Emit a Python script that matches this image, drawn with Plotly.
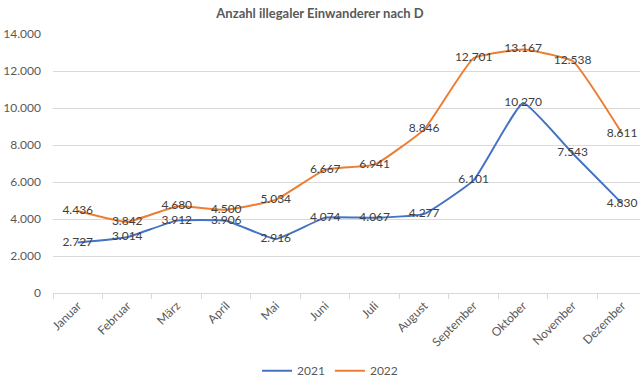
import plotly.graph_objects as go

months = ["Januar", "Februar", "März", "April", "Mai", "Juni", "Juli",
          "August", "September", "Oktober", "November", "Dezember"]
values_2021 = [2727, 3014, 3912, 3906, 2916, 4074, 4067, 4277, 6101, 10270, 7543, 4830]
values_2022 = [4436, 3842, 4680, 4500, 5034, 6667, 6941, 8846, 12701, 13167, 12538, 8611]
y_ticks = [0, 2000, 4000, 6000, 8000, 10000, 12000, 14000]

FONT = "Lato, 'Open Sans', sans-serif"
LABEL_COLOR = "#404040"

def fmt(v):
    return f"{v:,}".replace(",", ".")

fig = go.Figure()
for name, vals, color in [("2021", values_2021, "#4472C4"), ("2022", values_2022, "#ED7D31")]:
    fig.add_trace(go.Scatter(
        x=months, y=vals, name=name, mode="lines+text",
        line=dict(color=color, width=2, shape="spline", smoothing=0.35),
        text=[fmt(v) for v in vals], textposition="middle center",
        textfont=dict(family=FONT, size=12, color=LABEL_COLOR),
        cliponaxis=False,
    ))

fig.update_layout(
    width=640, height=387,
    margin=dict(l=53, r=0, t=34, b=94),
    paper_bgcolor="white", plot_bgcolor="white",
    separators=",.",
    title=dict(text="<b>Anzahl illegaler Einwanderer nach D</b>", x=0.5, xanchor="center",
               y=0.965, yanchor="middle",
               font=dict(family=FONT, size=13, color="#595959")),
    font=dict(family=FONT, color="#595959"),
    legend=dict(orientation="h", x=0.472, xanchor="center", y=-0.3, yanchor="middle",
                font=dict(family=FONT, size=12, color="#595959"),
                itemwidth=30, traceorder="normal"),
    showlegend=True,
)
fig.update_xaxes(
    range=[-0.5, 11.36], tickangle=-45, showgrid=False, automargin=False,
    ticks="outside", tickson="boundaries", ticklen=5, tickcolor="#D9D9D9",
    showline=True, linecolor="#D9D9D9", linewidth=1,
    tickfont=dict(family=FONT, size=12, color="#595959"),
)
fig.update_yaxes(
    range=[0, 14000], tickvals=y_ticks, tickformat=",d", automargin=False,
    showgrid=True, gridcolor="#D9D9D9", gridwidth=1, zeroline=False,
    tickfont=dict(family=FONT, size=12, color="#595959"), ticklabelstandoff=11,
)

fig.write_html("out.html", config={"displayModeBar": False},
               post_script="document.body.style.margin='0';document.body.style.overflow='hidden';")
